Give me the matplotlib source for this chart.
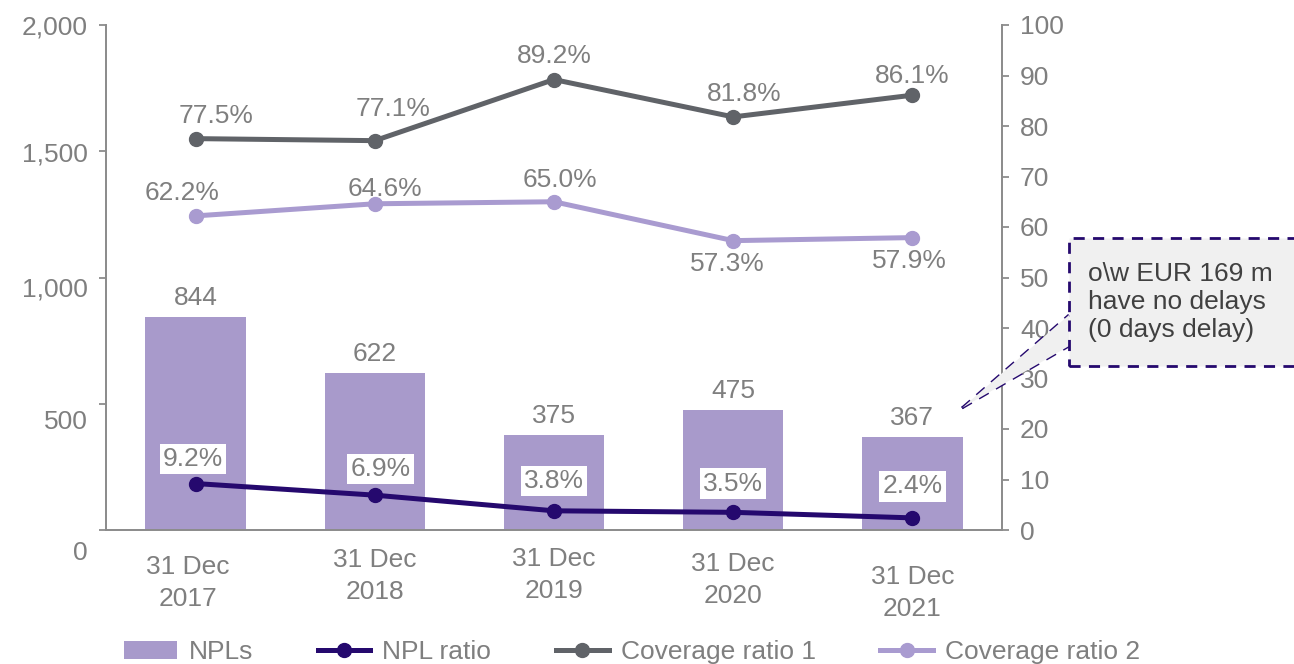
import matplotlib.pyplot as plt
import matplotlib.transforms as mtransforms
from matplotlib.patches import Rectangle, Polygon
from matplotlib.lines import Line2D
import numpy as np

plt.rcParams['font.family'] = ['Liberation Sans', 'DejaVu Sans']

#------------------------------------------------
# data
#------------------------------------------------
dates = ['31 Dec\n2017', '31 Dec\n2018', '31 Dec\n2019', '31 Dec\n2020', '31 Dec\n2021']
npls = [844, 622, 375, 475, 367]
npl_ratio = [9.2, 6.9, 3.8, 3.5, 2.4]
coverage1 = [77.5, 77.1, 89.2, 81.8, 86.1]
coverage2 = [62.2, 64.6, 65.0, 57.3, 57.9]
note_text = 'o\\w EUR 169 m\nhave no delays\n(0 days delay)'

# colours
c_bar = '#A89ACB'
c_npl = '#25096E'
c_cov1 = '#606368'
c_cov2 = '#A99BD0'
c_txt = '#7F7F7F'
c_axis = '#8C8C8C'
fs = 19

W, H = 1294, 664
fig = plt.figure(figsize=(W / 100, H / 100), dpi=100)
ax = fig.add_axes([106 / W, 1 - 530 / H, 896 / W, 505 / H])
ax2 = ax.twinx()

x = np.arange(len(dates))
ax.bar(x, npls, width=0.56, color=c_bar, zorder=1)
ax.set_xlim(-0.5, 4.5)
ax.set_ylim(0, 2000)
ax.set_yticks([0, 500, 1000, 1500, 2000])
ax.set_yticklabels(['0', '500', '1,000', '1,500', '2,000'])
ax2.set_ylim(0, 100)
ax2.set_yticks(np.arange(0, 101, 10))

# lines on right axis
ax2.plot(x, coverage1, color=c_cov1, lw=3.6, marker='o', ms=10, zorder=3)
ax2.plot(x, coverage2, color=c_cov2, lw=3.6, marker='o', ms=10, zorder=3)
ax2.plot(x, npl_ratio, color=c_npl, lw=3.6, marker='o', ms=10, zorder=4)

# spines / ticks
for a in (ax, ax2):
    a.spines['top'].set_visible(False)
    for s in ['left', 'right', 'bottom']:
        a.spines[s].set_color(c_axis)
        a.spines[s].set_linewidth(1.3)
    a.tick_params(axis='y', colors=c_axis, labelcolor=c_txt, labelsize=fs, length=5, width=1.3, pad=8)
ax.tick_params(axis='x', length=0, labelsize=fs, labelcolor=c_txt, pad=12)
ax.set_xticks(x)
ax.set_xticklabels(dates, linespacing=1.45)

# odd label offsets seen in the picture (pixels)
left_off = [-20, -16, -9, -1, 0]
for lab, dy in zip(ax.get_yticklabels(), left_off):
    lab.set_transform(lab.get_transform() + mtransforms.ScaledTranslation(0, dy / 100, fig.dpi_scale_trans))
x_off = [(-8, -8), (0, -1), (0, 0), (0, -5), (0, -18)]
for lab, (dx, dy) in zip(ax.get_xticklabels(), x_off):
    lab.set_transform(lab.get_transform() + mtransforms.ScaledTranslation(dx / 100, dy / 100, fig.dpi_scale_trans))

# data labels
for i, v in enumerate(npls):
    ax.annotate(f'{v}', (i, v), xytext=(0, 5), textcoords='offset points',
                ha='center', va='bottom', fontsize=fs, color=c_txt)

cov1_off = [(15, 8), (13, 14), (0, 8), (8, 8), (0, 5)]
for i, v in enumerate(coverage1):
    ax2.annotate(f'{v:.1f}%', (i, v), xytext=cov1_off[i], textcoords='offset points',
                 ha='center', va='bottom', fontsize=fs, color=c_txt)
cov2_off = [(-10, 8), (7, 2), (4, 7), (-4, -8), (-2, -8)]
for i, v in enumerate(coverage2):
    ax2.annotate(f'{v:.1f}%', (i, v), xytext=cov2_off[i], textcoords='offset points',
                 ha='center', va='bottom' if cov2_off[i][1] > 0 else 'top',
                 fontsize=fs, color=c_txt)
npl_off = [(-2, 9), (4, 10), (0, 13), (0, 12), (0, 14)]
for i, v in enumerate(npl_ratio):
    ax2.annotate(f'{v:.1f}%', (i, v), xytext=npl_off[i], textcoords='offset points',
                 ha='center', va='bottom', fontsize=fs, color=c_txt, zorder=5,
                 bbox=dict(boxstyle='square,pad=0.12', fc='white', ec='none'))

# note box with callout (figure pixels)
def fp(px, py):
    return (px / W, 1 - py / H)

wedge = Polygon([fp(962, 408), fp(1069, 315), fp(1069, 346)], closed=True,
                transform=fig.transFigure, fc='#F0F0F0', ec='none', zorder=5)
fig.patches.append(wedge)
box = Rectangle(fp(1069, 366), (W - 1069 + 20) / W, 128 / H, transform=fig.transFigure,
                fc='#F0F0F0', ec=c_npl, lw=2, ls=(0, (4, 3)), zorder=6)
fig.patches.append(box)
for yy in (315, 346):
    fig.lines.append(Line2D([962 / W, 1069 / W], [1 - 408 / H, 1 - yy / H],
                            transform=fig.transFigure, color=c_npl, lw=2, ls=(0, (4, 3))))
fig.text(1088 / W, 1 - 302 / H, note_text, ha='left', va='center', fontsize=fs,
         color='#404040', linespacing=1.2, zorder=7)

# legend
handles = [Rectangle((0, 0), 1, 1, fc=c_bar, ec='none'),
           Line2D([], [], color=c_npl, lw=3.6, marker='o', ms=10),
           Line2D([], [], color=c_cov1, lw=3.6, marker='o', ms=10),
           Line2D([], [], color=c_cov2, lw=3.6, marker='o', ms=10)]
fig.legend(handles, ['NPLs', 'NPL ratio', 'Coverage ratio 1', 'Coverage ratio 2'],
           loc='center', bbox_to_anchor=(632 / W, 1 - 652 / H), ncol=4, frameon=False,
           fontsize=fs, labelcolor=c_txt, handlelength=2.0, handletextpad=0.45,
           columnspacing=2.45, borderpad=0)

fig.savefig('out.png', dpi=100)
